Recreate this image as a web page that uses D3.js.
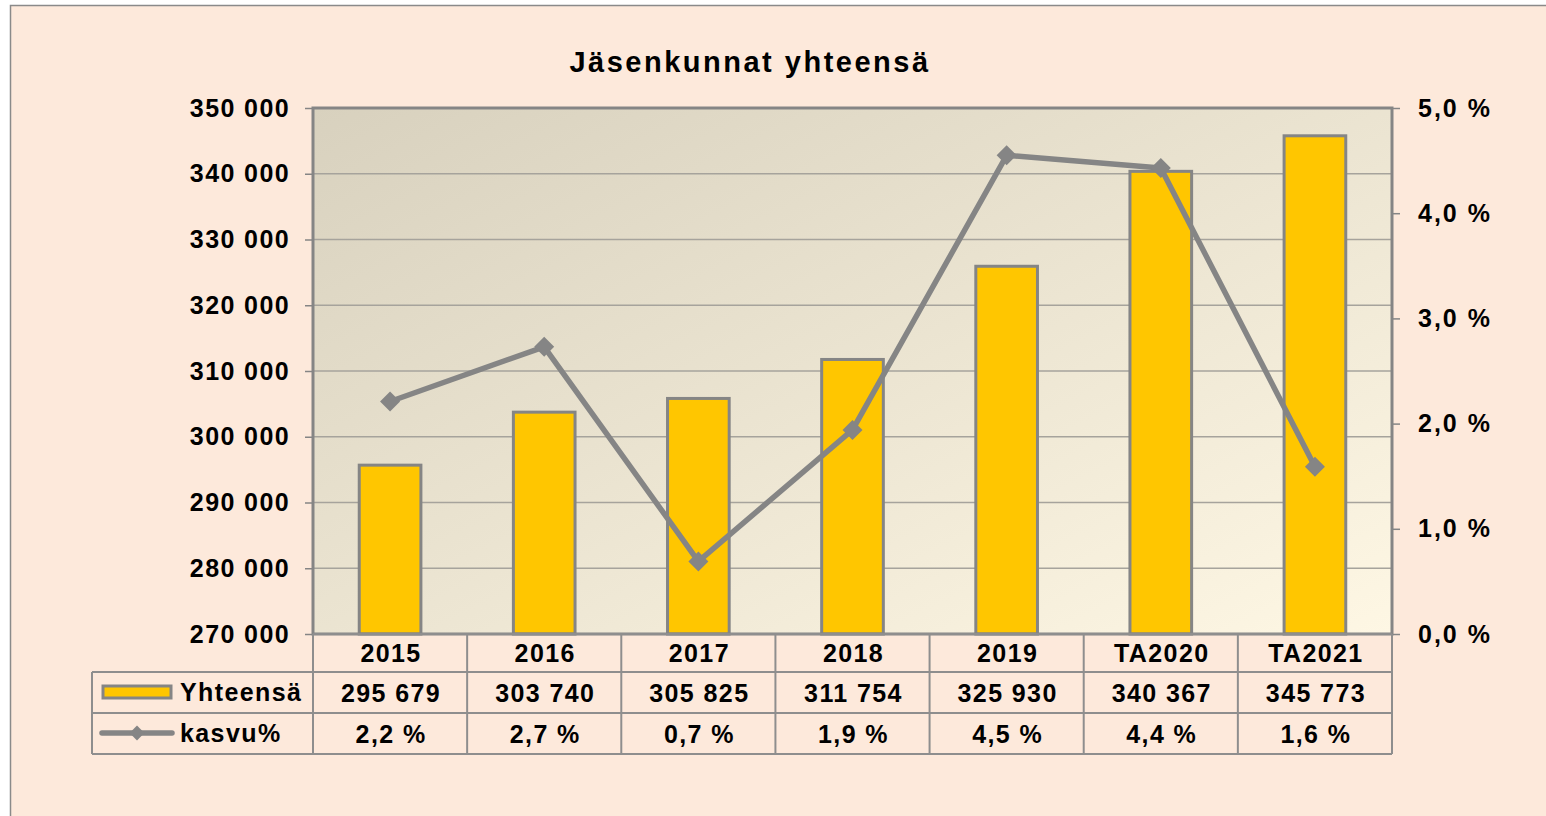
<!DOCTYPE html>
<html>
<head>
<meta charset="utf-8">
<script src="https://cdn.jsdelivr.net/npm/d3@7"></script>
<style>
  body { margin: 0; background: #ffffff; }
  text { font-family: "Liberation Sans", Arial, sans-serif; font-weight: bold; fill: #000; }
</style>
</head>
<body>
<div id="chart"></div>
<script>
var years = ["2015", "2016", "2017", "2018", "2019", "TA2020", "TA2021"];
var totals = [295679, 303740, 305825, 311754, 325930, 340367, 345773];
var growth = [2.21, 2.73, 0.69, 1.94, 4.55, 4.43, 1.59];
var growthLabels = ["2,2 %", "2,7 %", "0,7 %", "1,9 %", "4,5 %", "4,4 %", "1,6 %"];
var leftTicks = [270000, 280000, 290000, 300000, 310000, 320000, 330000, 340000, 350000];
var rightTicks = [0, 1, 2, 3, 4, 5];

var W = 1546, H = 816;
var grey = "#858585";
var fs = "25px", ls = "1.4px";

var svg = d3.select("#chart").append("svg")
    .attr("width", W)
    .attr("height", H);

// chart frame
svg.append("rect")
    .attr("x", 10.5).attr("y", 5.5)
    .attr("width", W).attr("height", H)
    .attr("fill", "#fde9db")
    .attr("stroke", "#8a8a8a")
    .attr("stroke-width", 1.5);

var plot = {left: 313, right: 1392, top: 108, bottom: 634};

var x = d3.scaleBand()
    .domain(years)
    .range([plot.left, plot.right]);

var y = d3.scaleLinear()
    .domain([270000, 350000])
    .range([plot.bottom, plot.top]);

var y2 = d3.scaleLinear()
    .domain([0, 5])
    .range([plot.bottom, plot.top]);

// plot area gradient
var defs = svg.append("defs");
var grad = defs.append("linearGradient")
    .attr("id", "bg")
    .attr("x1", "0%").attr("y1", "0%")
    .attr("x2", "100%").attr("y2", "100%");
grad.append("stop").attr("offset", "0%").attr("stop-color", "#d8d1be");
grad.append("stop").attr("offset", "100%").attr("stop-color", "#fef7e4");

svg.append("rect")
    .attr("x", plot.left).attr("y", plot.top)
    .attr("width", plot.right - plot.left)
    .attr("height", plot.bottom - plot.top)
    .attr("fill", "url(#bg)");

// gridlines
svg.append("g")
    .selectAll("line")
    .data(leftTicks.slice(1))
    .join("line")
    .attr("x1", plot.left).attr("x2", plot.right)
    .attr("y1", d => y(d)).attr("y2", d => y(d))
    .attr("stroke", "#a6a39c")
    .attr("stroke-width", 1.5);

// title
svg.append("text")
    .attr("x", 750).attr("y", 72)
    .attr("text-anchor", "middle")
    .style("font-size", "29px")
    .style("letter-spacing", "2.5px")
    .text("Jäsenkunnat yhteensä");

// left axis
var fmt = d => d3.format(",")(d).replace(/,/g, " ");
var gl = svg.append("g")
    .attr("transform", "translate(" + plot.left + ",0)")
    .call(d3.axisLeft(y).tickValues(leftTicks).tickFormat(fmt).tickSize(8).tickPadding(15));
gl.select(".domain").remove();
gl.selectAll(".tick line").attr("stroke", grey).attr("stroke-width", 1.5);
gl.selectAll(".tick text").style("font-size", fs).style("letter-spacing", ls).attr("fill", "#000");

// right axis
var gr = svg.append("g")
    .attr("transform", "translate(" + plot.right + ",0)")
    .call(d3.axisRight(y2).tickValues(rightTicks)
      .tickFormat(d => d3.format(".1f")(d).replace(".", ",") + " %")
      .tickSize(8).tickPadding(18));
gr.select(".domain").remove();
gr.selectAll(".tick line").attr("stroke", grey).attr("stroke-width", 1.5);
gr.selectAll(".tick text").style("font-size", fs).style("letter-spacing", "2px").attr("fill", "#000");

// bars
var bw = x.bandwidth() * 0.4;
svg.append("g")
    .selectAll("rect")
    .data(totals)
    .join("rect")
    .attr("x", (d, i) => x(years[i]) + (x.bandwidth() - bw) / 2)
    .attr("y", d => y(d))
    .attr("width", bw)
    .attr("height", d => plot.bottom - y(d))
    .attr("fill", "#ffc600")
    .attr("stroke", grey)
    .attr("stroke-width", 3);

// plot borders (axes)
svg.append("path")
    .attr("d", "M" + plot.left + "," + plot.top + "H" + plot.right + "V" + plot.bottom + "H" + plot.left + "Z")
    .attr("fill", "none")
    .attr("stroke", grey)
    .attr("stroke-width", 3);

// line
var cx = (d, i) => x(years[i]) + x.bandwidth() / 2;
var line = d3.line()
    .x(cx)
    .y(d => y2(d));

svg.append("path")
    .datum(growth)
    .attr("d", line)
    .attr("fill", "none")
    .attr("stroke", grey)
    .attr("stroke-width", 5.5)
    .attr("stroke-linejoin", "round");

var diamond = d3.symbol().type(d3.symbolSquare).size(200);
svg.append("g")
    .selectAll("path")
    .data(growth)
    .join("path")
    .attr("d", diamond)
    .attr("transform", (d, i) => "translate(" + cx(d, i) + "," + y2(d) + ") rotate(45)")
    .attr("fill", grey);

// data table
var rows = [plot.bottom, 672, 713, 754];
var tableLeft = 92;
var tg = svg.append("g")
    .attr("stroke", "#8e8e8e")
    .attr("stroke-width", 2)
    .attr("fill", "none");

tg.append("line").attr("x1", plot.left).attr("x2", plot.right).attr("y1", rows[0]).attr("y2", rows[0]);
tg.append("line").attr("x1", tableLeft).attr("x2", plot.right).attr("y1", rows[1]).attr("y2", rows[1]);
tg.append("line").attr("x1", tableLeft).attr("x2", plot.right).attr("y1", rows[2]).attr("y2", rows[2]);
tg.append("line").attr("x1", tableLeft).attr("x2", plot.right).attr("y1", rows[3]).attr("y2", rows[3]);
tg.append("line").attr("x1", tableLeft).attr("x2", tableLeft).attr("y1", rows[1]).attr("y2", rows[3]);
tg.selectAll(".col")
    .data(years.concat(["end"]))
    .join("line")
    .attr("x1", (d, i) => plot.left + i * x.step())
    .attr("x2", (d, i) => plot.left + i * x.step())
    .attr("y1", rows[0]).attr("y2", rows[3]);

var cellText = function(values, r) {
  svg.append("g")
      .selectAll("text")
      .data(values)
      .join("text")
      .attr("x", (d, i) => x(years[i]) + x.bandwidth() / 2 + 1)
      .attr("y", (rows[r] + rows[r + 1]) / 2 + 9)
      .attr("text-anchor", "middle")
      .style("font-size", fs)
      .style("letter-spacing", ls)
      .text(d => d);
};
cellText(years, 0);
cellText(totals.map(fmt), 1);
cellText(growthLabels, 2);

// legend keys
svg.append("rect")
    .attr("x", 103).attr("y", 686)
    .attr("width", 68).attr("height", 12)
    .attr("fill", "#ffc600")
    .attr("stroke", grey)
    .attr("stroke-width", 3);
svg.append("text")
    .attr("x", 180).attr("y", 701)
    .style("font-size", fs)
    .style("letter-spacing", ls)
    .text("Yhteensä");

svg.append("line")
    .attr("x1", 102).attr("x2", 172)
    .attr("y1", 733).attr("y2", 733)
    .attr("stroke", grey)
    .attr("stroke-width", 5.5)
    .attr("stroke-linecap", "round");
svg.append("path")
    .attr("d", d3.symbol().type(d3.symbolSquare).size(110))
    .attr("transform", "translate(137,733) rotate(45)")
    .attr("fill", grey);
svg.append("text")
    .attr("x", 180).attr("y", 742)
    .style("font-size", fs)
    .style("letter-spacing", ls)
    .text("kasvu%");
</script>
</body>
</html>
